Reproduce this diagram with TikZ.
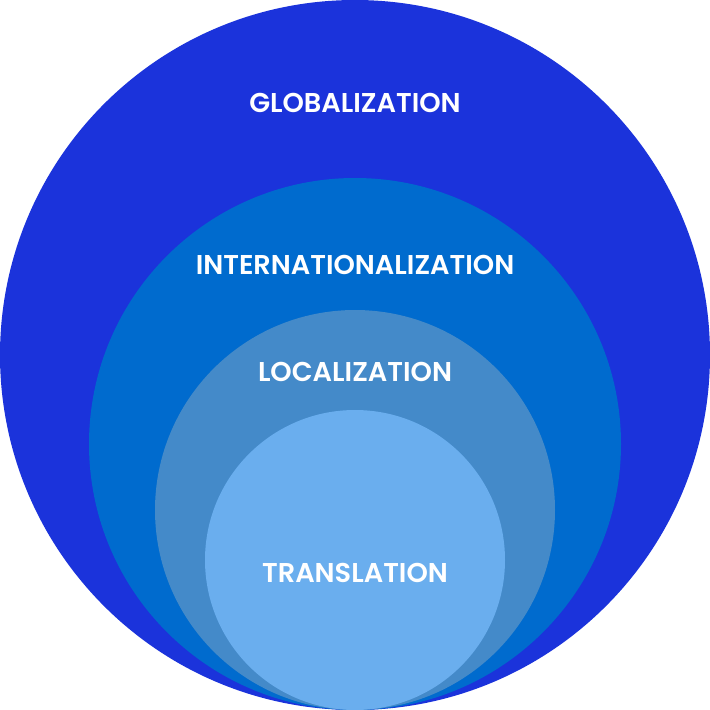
\documentclass[tikz,border=0pt]{standalone}
\usepackage{fontspec}
\setmainfont{Poppins}[UprightFont=* SemiBold, BoldFont=* Bold]
\definecolor{cA}{HTML}{1B33DB}
\definecolor{cB}{HTML}{006BCE}
\definecolor{cC}{HTML}{448AC9}
\definecolor{cD}{HTML}{6AAEEE}
\begin{document}
\begin{tikzpicture}[x=1pt,y=-1pt,
  lbl/.style={text=white,font=\fontsize{27.2}{30}\selectfont}]
\useasboundingbox (0,0) rectangle (710,710);
\fill[cA] (355,355) circle (355);
\fill[cB] (355,444) circle (266);
\fill[cC] (355,510) circle (200);
\fill[cD] (355,560) circle (150);
\node[lbl] (g) at (355,103) {GLOBALIZATION};
\node[lbl] (i) at (355,265) {INTERNATIONALIZATION};
\node[lbl] (l) at (355,372) {LOCALIZATION};
\node[lbl] (t) at (355,573) {TRANSLATION};
\end{tikzpicture}
\end{document}
